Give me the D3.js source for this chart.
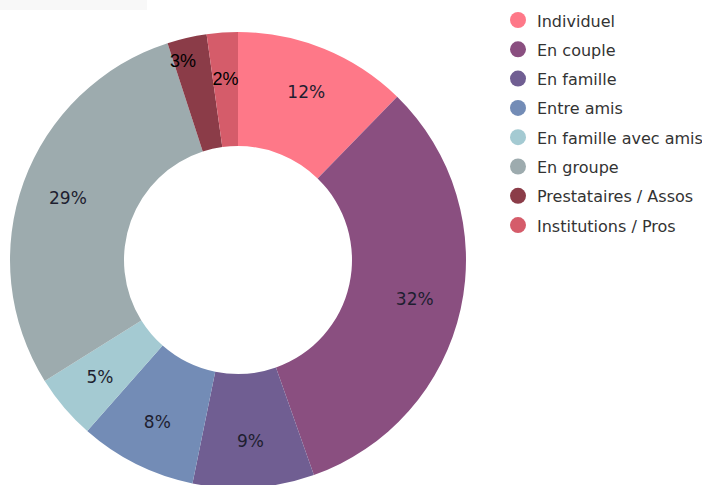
<!DOCTYPE html>
<html lang="fr">
<head>
    <meta charset="UTF-8">
    <title>Répartition des visiteurs</title>
    <script src="https://d3js.org/d3.v7.min.js"></script>
    <style>
        body { margin: 0; background: #fff; }
        svg { display: block; }
    </style>
</head>
<body>
    <svg width="702" height="485"></svg>
    <script>
        // Data (clockwise from 12 o'clock)
        const categories = ["Individuel", "En couple", "En famille", "Entre amis",
            "En famille avec amis", "En groupe", "Prestataires / Assos", "Institutions / Pros"];
        const values = [12.3, 32.3, 8.6, 8.3, 4.6, 28.9, 2.8, 2.2];
        const colors = ["#fe7888", "#8a4f80", "#705e92", "#738cb6",
            "#a4cad2", "#9dabae", "#8b3c48", "#d55c6a"];

        const svg = d3.select("svg");
        const cx = 238, cy = 260;
        const outerR = 228, innerR = 114;

        // faint strip in the top-left corner
        svg.append("rect")
            .attr("x", 0).attr("y", 0)
            .attr("width", 147).attr("height", 10)
            .attr("fill", "#f8f8f8");

        const total = d3.sum(values);
        const pie = d3.pie().sort(null).value(d => d);
        const arcs = pie(values);

        const arc = d3.arc().innerRadius(innerR).outerRadius(outerR);
        const g = svg.append("g").attr("transform", `translate(${cx},${cy})`);

        g.selectAll("path")
            .data(arcs)
            .enter().append("path")
            .attr("d", arc)
            .attr("fill", (d, i) => colors[i]);

        // percentage labels
        const isSmall = d => d.value / total < 0.03;
        function labelPos(d) {
            if (isSmall(d) && d.value / total > 0.025) {
                // label too wide for the slice: pushed towards the rim
                const a = d.startAngle + (d.endAngle - d.startAngle) * 0.25;
                return [206 * Math.sin(a), -206 * Math.cos(a)];
            }
            const a = (d.startAngle + d.endAngle) / 2;
            return [181 * Math.sin(a), -181 * Math.cos(a)];
        }
        g.selectAll("text.pct")
            .data(arcs)
            .enter().append("text")
            .attr("class", "pct")
            .attr("transform", d => `translate(${labelPos(d)})`)
            .attr("text-anchor", "middle")
            .attr("dominant-baseline", "central")
            .style("font-family", d => isSmall(d) ? "'Liberation Sans', Arial, sans-serif" : "'DejaVu Sans', Verdana, sans-serif")
            .style("font-size", d => isSmall(d) ? "18px" : "17px")
            .attr("fill", d => isSmall(d) ? "#000" : "#1e1e30")
            .text(d => Math.round(d.value / total * 100) + "%");

        // legend
        const legend = svg.append("g").attr("transform", "translate(518,20)");
        const rows = legend.selectAll("g")
            .data(categories)
            .enter().append("g")
            .attr("transform", (d, i) => `translate(0,${i * 29.3})`);
        rows.append("circle")
            .attr("r", 8)
            .attr("fill", (d, i) => colors[i]);
        rows.append("text")
            .attr("x", 19)
            .attr("y", 1)
            .attr("dominant-baseline", "central")
            .style("font-family", "'DejaVu Sans', Verdana, sans-serif")
            .style("font-size", "16px")
            .attr("fill", "#333")
            .text(d => d);
    </script>
</body>
</html>
